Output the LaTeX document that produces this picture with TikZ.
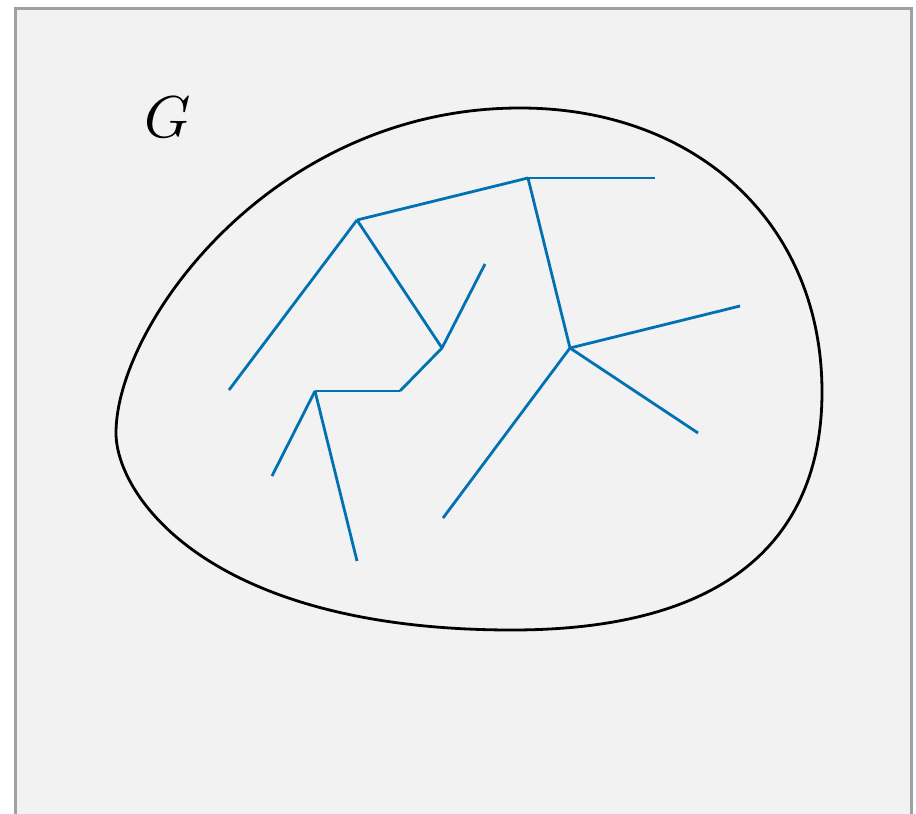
\documentclass[tikz,border=0pt]{standalone}
\usetikzlibrary{positioning, calc}

\definecolor{treeblue}{RGB}{0,114,178}
\definecolor{panelgray}{RGB}{242,242,242}
\definecolor{framegray}{RGB}{160,160,160}

\begin{document}
\begin{tikzpicture}[
    x=1pt, y=-1pt,
    % ── styles ─────────────────────────────────────────
    panel/.style = { fill=panelgray, draw=framegray, line width=3pt, },
    region/.style = { draw=black, line width=2.8pt, },
    edge/.style = { draw=treeblue, line width=2.8pt, },
    label/.style = { scale=5.9, inner sep=0pt, },
    ]

    \useasboundingbox (0,0) rectangle (916,814);
    \clip (0,0) rectangle (916,814);

    % ============================================================
    % PANEL
    % ============================================================
    \draw[panel] (15.5,8.5) rectangle (911.5,840);

    % ============================================================
    % REGION G
    % ============================================================
    \coordinate (r-top) at (520,108);
    \coordinate (r-right) at (822,392);
    \coordinate (r-bottom) at (512,630);
    \coordinate (r-left) at (116,433);

    \draw[region]
    (r-top) .. controls +(175,0) and +(0,-170) .. (r-right)
    .. controls +(0,130) and +(235,0) .. (r-bottom)
    .. controls +(-305,0) and +(0,62) .. (r-left)
    .. controls +(0,-108) and +(-248,0) .. (r-top) -- cycle;

    \node[label] (g-label) at (168,117) {$G$};

    % ============================================================
    % TREE VERTICES
    % ============================================================
    \coordinate (v-a) at (357,220);
    \coordinate (v-b) at (528,178);
    \coordinate (v-c) at (655,178);
    \coordinate (v-d) at (570,348);
    \coordinate (v-e) at (740,306);
    \coordinate (v-f) at (698,433);
    \coordinate (v-g) at (443,518);
    \coordinate (v-h) at (229,390);
    \coordinate (v-i) at (442,348);
    \coordinate (v-j) at (485,264);
    \coordinate (v-k) at (400,391);
    \coordinate (v-l) at (315,391);
    \coordinate (v-m) at (272,476);
    \coordinate (v-n) at (357,561);

    % ============================================================
    % TREE EDGES
    % ============================================================
    \foreach \from/\to in {a/b, b/c, b/d, d/e, d/f, d/g, a/h, a/i,
            i/j, i/k, k/l, l/m, l/n}
        \draw[edge] (v-\from) -- (v-\to);

\end{tikzpicture}
\end{document}
